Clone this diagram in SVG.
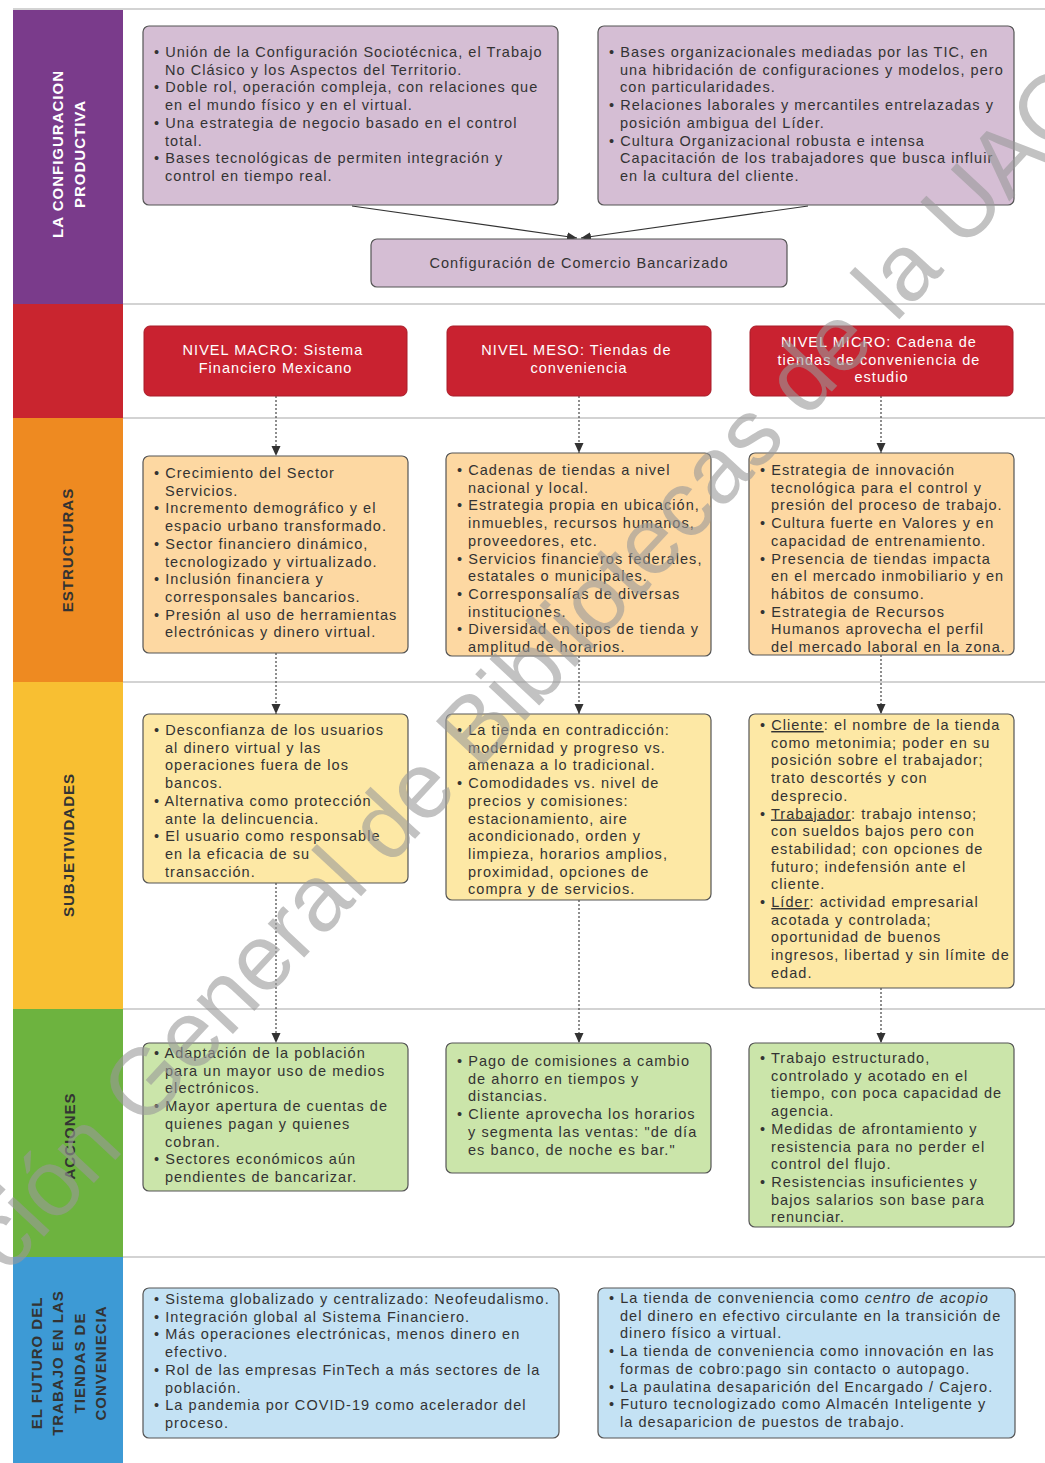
<svg xmlns="http://www.w3.org/2000/svg" width="1045" height="1463" viewBox="0 0 1045 1463">
<defs>
<style>
.t{font-family:"Liberation Sans",Arial,sans-serif;font-size:14.5px;letter-spacing:1.05px;fill:#333}
.w{fill:#fff}
.lab{font-family:"Liberation Sans",Arial,sans-serif;font-size:15px;font-weight:bold;letter-spacing:1px;text-anchor:middle}
.bx{stroke:#555;stroke-width:1.2}
.pu{fill:#D5BED4}
.rd{fill:#C92230;stroke:#A81C28;stroke-width:1}
.or{fill:#FDD8A2}
.ye{fill:#FDE8A5}
.gr{fill:#CBE5AA}
.bl{fill:#C4E2F4}
.grid{stroke:#C4C4C4;stroke-width:1.5}
.dash{stroke:#444;stroke-width:1.2;stroke-dasharray:2 2;fill:none}
.solid{stroke:#333;stroke-width:1.2;fill:none}
</style>
<marker id="arr" viewBox="0 0 10 10" refX="10" refY="5" markerWidth="10" markerHeight="10" markerUnits="userSpaceOnUse" orient="auto">
<path d="M0,0.5 L10,5 L0,9.5 Z" fill="#333"/>
</marker>
</defs>
<rect x="0" y="0" width="1045" height="1463" fill="#fff"/>

<g id="lanes">
<rect x="13" y="10" width="110" height="294" fill="#7A3B8B"/>
<rect x="13" y="304" width="110" height="114" fill="#C9252F"/>
<rect x="13" y="418" width="110" height="264" fill="#EE8A21"/>
<rect x="13" y="682" width="110" height="327" fill="#F8BF32"/>
<rect x="13" y="1009" width="110" height="248" fill="#6DB33F"/>
<rect x="13" y="1257" width="110" height="206" fill="#3D9AD5"/>
<line class="grid" x1="13" y1="9" x2="1045" y2="9"/>
<line class="grid" x1="123" y1="304" x2="1045" y2="304"/>
<line class="grid" x1="123" y1="418" x2="1045" y2="418"/>
<line class="grid" x1="123" y1="682" x2="1045" y2="682"/>
<line class="grid" x1="123" y1="1009" x2="1045" y2="1009"/>
<line class="grid" x1="123" y1="1257" x2="1045" y2="1257"/>
<text class="lab w" transform="translate(63,154) rotate(-90)">LA CONFIGURACION</text>
<text class="lab w" transform="translate(85,154) rotate(-90)">PRODUCTIVA</text>
<text class="lab" fill="#333" transform="translate(73,550) rotate(-90)">ESTRUCTURAS</text>
<text class="lab" fill="#333" transform="translate(74,845) rotate(-90)">SUBJETIVIDADES</text>
<text class="lab" fill="#333" transform="translate(75,1136) rotate(-90)">ACCIONES</text>
<text class="lab" fill="#333" transform="translate(42,1363) rotate(-90)">EL FUTURO DEL</text>
<text class="lab" fill="#333" transform="translate(63,1363) rotate(-90)">TRABAJO EN LAS</text>
<text class="lab" fill="#333" transform="translate(84.5,1363) rotate(-90)">TIENDAS DE</text>
<text class="lab" fill="#333" transform="translate(106,1363) rotate(-90)">CONVENIECIA</text>
</g>

<g id="connectors">
<line class="solid" x1="352" y1="206" x2="577" y2="238" marker-end="url(#arr)"/>
<line class="solid" x1="808" y1="206" x2="581" y2="238" marker-end="url(#arr)"/>
<line class="dash" x1="276" y1="396" x2="276" y2="456" marker-end="url(#arr)"/>
<line class="dash" x1="276" y1="653" x2="276" y2="714" marker-end="url(#arr)"/>
<line class="dash" x1="276" y1="883" x2="276" y2="1043" marker-end="url(#arr)"/>
<line class="dash" x1="579" y1="396" x2="579" y2="453" marker-end="url(#arr)"/>
<line class="dash" x1="579" y1="656" x2="579" y2="714" marker-end="url(#arr)"/>
<line class="dash" x1="579" y1="900" x2="579" y2="1043" marker-end="url(#arr)"/>
<line class="dash" x1="881" y1="396" x2="881" y2="453" marker-end="url(#arr)"/>
<line class="dash" x1="881" y1="655" x2="881" y2="714" marker-end="url(#arr)"/>
<line class="dash" x1="881" y1="988" x2="881" y2="1043" marker-end="url(#arr)"/>
</g>

<g id="conf-a">
<rect class="bx pu" x="143" y="26" width="415" height="179" rx="6"/>
<text class="t">
<tspan x="154" y="57">• Unión de la Configuración Sociotécnica, el Trabajo</tspan>
<tspan x="165" y="74.7">No Clásico y los Aspectos del Territorio.</tspan>
<tspan x="154" y="92.4">• Doble rol, operación compleja, con relaciones que</tspan>
<tspan x="165" y="110.1">en el mundo físico y en el virtual.</tspan>
<tspan x="154" y="127.8">• Una estrategia de negocio basado en el control</tspan>
<tspan x="165" y="145.5">total.</tspan>
<tspan x="154" y="163.2">• Bases tecnológicas de permiten integración y</tspan>
<tspan x="165" y="180.9">control en tiempo real.</tspan>
</text>
</g>

<g id="conf-b">
<rect class="bx pu" x="598" y="26" width="416" height="179" rx="6"/>
<text class="t">
<tspan x="609" y="57">• Bases organizacionales mediadas por las TIC, en</tspan>
<tspan x="620" y="74.7">una hibridación de configuraciones y modelos, pero</tspan>
<tspan x="620" y="92.4">con particularidades.</tspan>
<tspan x="609" y="110.1">• Relaciones laborales y mercantiles entrelazadas y</tspan>
<tspan x="620" y="127.8">posición ambigua del Líder.</tspan>
<tspan x="609" y="145.5">• Cultura Organizacional robusta e intensa</tspan>
<tspan x="620" y="163.2">Capacitación de los trabajadores que busca influir</tspan>
<tspan x="620" y="180.9">en la cultura del cliente.</tspan>
</text>
</g>

<g id="conf-c">
<rect class="bx pu" x="371" y="239" width="416" height="48" rx="6"/>
<text class="t" x="579" y="268" text-anchor="middle">Configuración de Comercio Bancarizado</text>
</g>

<g id="macro">
<rect class="rd" x="144" y="326" width="263" height="70" rx="6"/>
<text class="t w" text-anchor="middle">
<tspan x="275.5" y="355">NIVEL MACRO: Sistema</tspan>
<tspan x="275.5" y="373">Financiero Mexicano</tspan>
</text>
</g>

<g id="meso">
<rect class="rd" x="447" y="326" width="264" height="70" rx="6"/>
<text class="t w" text-anchor="middle">
<tspan x="579" y="355">NIVEL MESO: Tiendas de</tspan>
<tspan x="579" y="373">conveniencia</tspan>
</text>
</g>

<g id="micro">
<rect class="rd" x="750" y="326" width="263" height="70" rx="6"/>
<text class="t w" text-anchor="middle">
<tspan x="881.5" y="347">NIVEL MICRO: Cadena de</tspan>
<tspan x="881.5" y="364.7">tiendas de conveniencia de</tspan>
<tspan x="881.5" y="382.4">estudio</tspan>
</text>
</g>

<g id="estructuras-macro">
<rect class="bx or" x="143" y="456" width="265" height="197" rx="6"/>
<text class="t">
<tspan x="154" y="478">• Crecimiento del Sector</tspan>
<tspan x="165" y="495.7">Servicios.</tspan>
<tspan x="154" y="513.4">• Incremento demográfico y el</tspan>
<tspan x="165" y="531.1">espacio urbano transformado.</tspan>
<tspan x="154" y="548.8">• Sector financiero dinámico,</tspan>
<tspan x="165" y="566.5">tecnologizado y virtualizado.</tspan>
<tspan x="154" y="584.2">• Inclusión financiera y</tspan>
<tspan x="165" y="601.9">corresponsales bancarios.</tspan>
<tspan x="154" y="619.6">• Presión al uso de herramientas</tspan>
<tspan x="165" y="637.3">electrónicas y dinero virtual.</tspan>
</text>
</g>

<g id="estructuras-meso">
<rect class="bx or" x="446" y="453" width="265" height="203" rx="6"/>
<text class="t">
<tspan x="457" y="475">• Cadenas de tiendas a nivel</tspan>
<tspan x="468" y="492.7">nacional y local.</tspan>
<tspan x="457" y="510.4">• Estrategia propia en ubicación,</tspan>
<tspan x="468" y="528.1">inmuebles, recursos humanos,</tspan>
<tspan x="468" y="545.8">proveedores, etc.</tspan>
<tspan x="457" y="563.5">• Servicios financieros federales,</tspan>
<tspan x="468" y="581.2">estatales o municipales.</tspan>
<tspan x="457" y="598.9">• Corresponsalías de diversas</tspan>
<tspan x="468" y="616.6">instituciones.</tspan>
<tspan x="457" y="634.3">• Diversidad en tipos de tienda y</tspan>
<tspan x="468" y="652">amplitud de horarios.</tspan>
</text>
</g>

<g id="estructuras-micro">
<rect class="bx or" x="749" y="453" width="265" height="202" rx="6"/>
<text class="t">
<tspan x="760" y="475">• Estrategia de innovación</tspan>
<tspan x="771" y="492.7">tecnológica para el control y</tspan>
<tspan x="771" y="510.4">presión del proceso de trabajo.</tspan>
<tspan x="760" y="528.1">• Cultura fuerte en Valores y en</tspan>
<tspan x="771" y="545.8">capacidad de entrenamiento.</tspan>
<tspan x="760" y="563.5">• Presencia de tiendas impacta</tspan>
<tspan x="771" y="581.2">en el mercado inmobiliario y en</tspan>
<tspan x="771" y="598.9">hábitos de consumo.</tspan>
<tspan x="760" y="616.6">• Estrategia de Recursos</tspan>
<tspan x="771" y="634.3">Humanos aprovecha el perfil</tspan>
<tspan x="771" y="652">del mercado laboral en la zona.</tspan>
</text>
</g>

<g id="subjetividades-macro">
<rect class="bx ye" x="143" y="714" width="265" height="169" rx="6"/>
<text class="t">
<tspan x="154" y="735">• Desconfianza de los usuarios</tspan>
<tspan x="165" y="752.7">al dinero virtual y las</tspan>
<tspan x="165" y="770.4">operaciones fuera de los</tspan>
<tspan x="165" y="788.1">bancos.</tspan>
<tspan x="154" y="805.8">• Alternativa como protección</tspan>
<tspan x="165" y="823.5">ante la delincuencia.</tspan>
<tspan x="154" y="841.2">• El usuario como responsable</tspan>
<tspan x="165" y="858.9">en la eficacia de su</tspan>
<tspan x="165" y="876.6">transacción.</tspan>
</text>
</g>

<g id="subjetividades-meso">
<rect class="bx ye" x="446" y="714" width="265" height="186" rx="6"/>
<text class="t">
<tspan x="457" y="735">• La tienda en contradicción:</tspan>
<tspan x="468" y="752.7">modernidad y progreso vs.</tspan>
<tspan x="468" y="770.4">amenaza a lo tradicional.</tspan>
<tspan x="457" y="788.1">• Comodidades vs. nivel de</tspan>
<tspan x="468" y="805.8">precios y comisiones:</tspan>
<tspan x="468" y="823.5">estacionamiento, aire</tspan>
<tspan x="468" y="841.2">acondicionado, orden y</tspan>
<tspan x="468" y="858.9">limpieza, horarios amplios,</tspan>
<tspan x="468" y="876.6">proximidad, opciones de</tspan>
<tspan x="468" y="894.3">compra y de servicios.</tspan>
</text>
</g>

<g id="subjetividades-micro">
<rect class="bx ye" x="749" y="714" width="265" height="274" rx="6"/>
<text class="t">
<tspan x="760" y="730">• </tspan><tspan text-decoration="underline">Cliente</tspan><tspan>: el nombre de la tienda</tspan>
<tspan x="771" y="747.7">como metonimia; poder en su</tspan>
<tspan x="771" y="765.4">posición sobre el trabajador;</tspan>
<tspan x="771" y="783.1">trato descortés y con</tspan>
<tspan x="771" y="800.8">desprecio.</tspan>
<tspan x="760" y="818.5">• </tspan><tspan text-decoration="underline">Trabajador</tspan><tspan>: trabajo intenso;</tspan>
<tspan x="771" y="836.2">con sueldos bajos pero con</tspan>
<tspan x="771" y="853.9">estabilidad; con opciones de</tspan>
<tspan x="771" y="871.6">futuro; indefensión ante el</tspan>
<tspan x="771" y="889.3">cliente.</tspan>
<tspan x="760" y="907">• </tspan><tspan text-decoration="underline">Líder</tspan><tspan>: actividad empresarial</tspan>
<tspan x="771" y="924.7">acotada y controlada;</tspan>
<tspan x="771" y="942.4">oportunidad de buenos</tspan>
<tspan x="771" y="960.1">ingresos, libertad y sin límite de</tspan>
<tspan x="771" y="977.8">edad.</tspan>
</text>
</g>

<g id="acciones-macro">
<rect class="bx gr" x="143" y="1043" width="265" height="148" rx="6"/>
<text class="t">
<tspan x="154" y="1058">• Adaptación de la población</tspan>
<tspan x="165" y="1075.7">para un mayor uso de medios</tspan>
<tspan x="165" y="1093.4">electrónicos.</tspan>
<tspan x="154" y="1111.1">• Mayor apertura de cuentas de</tspan>
<tspan x="165" y="1128.8">quienes pagan y quienes</tspan>
<tspan x="165" y="1146.5">cobran.</tspan>
<tspan x="154" y="1164.2">• Sectores económicos aún</tspan>
<tspan x="165" y="1181.9">pendientes de bancarizar.</tspan>
</text>
</g>

<g id="acciones-meso">
<rect class="bx gr" x="446" y="1043" width="265" height="130" rx="6"/>
<text class="t">
<tspan x="457" y="1066">• Pago de comisiones a cambio</tspan>
<tspan x="468" y="1083.7">de ahorro en tiempos y</tspan>
<tspan x="468" y="1101.4">distancias.</tspan>
<tspan x="457" y="1119.1">• Cliente aprovecha los horarios</tspan>
<tspan x="468" y="1136.8">y segmenta las ventas: "de día</tspan>
<tspan x="468" y="1154.5">es banco, de noche es bar."</tspan>
</text>
</g>

<g id="acciones-micro">
<rect class="bx gr" x="749" y="1043" width="265" height="184" rx="6"/>
<text class="t">
<tspan x="760" y="1063">• Trabajo estructurado,</tspan>
<tspan x="771" y="1080.7">controlado y acotado en el</tspan>
<tspan x="771" y="1098.4">tiempo, con poca capacidad de</tspan>
<tspan x="771" y="1116.1">agencia.</tspan>
<tspan x="760" y="1133.8">• Medidas de afrontamiento y</tspan>
<tspan x="771" y="1151.5">resistencia para no perder el</tspan>
<tspan x="771" y="1169.2">control del flujo.</tspan>
<tspan x="760" y="1186.9">• Resistencias insuficientes y</tspan>
<tspan x="771" y="1204.6">bajos salarios son base para</tspan>
<tspan x="771" y="1222.3">renunciar.</tspan>
</text>
</g>

<g id="futuro-a">
<rect class="bx bl" x="143" y="1288" width="416" height="150" rx="6"/>
<text class="t">
<tspan x="154" y="1304">• Sistema globalizado y centralizado: Neofeudalismo.</tspan>
<tspan x="154" y="1321.7">• Integración global al Sistema Financiero.</tspan>
<tspan x="154" y="1339.4">• Más operaciones electrónicas, menos dinero en</tspan>
<tspan x="165" y="1357.1">efectivo.</tspan>
<tspan x="154" y="1374.8">• Rol de las empresas FinTech a más sectores de la</tspan>
<tspan x="165" y="1392.5">población.</tspan>
<tspan x="154" y="1410.2">• La pandemia por COVID-19 como acelerador del</tspan>
<tspan x="165" y="1427.9">proceso.</tspan>
</text>
</g>

<g id="futuro-b">
<rect class="bx bl" x="598" y="1288" width="417" height="150" rx="6"/>
<text class="t">
<tspan x="609" y="1303">• La tienda de conveniencia como </tspan><tspan font-style="italic">centro de acopio</tspan>
<tspan x="620" y="1320.7">del dinero en efectivo circulante en la transición de</tspan>
<tspan x="620" y="1338.4">dinero físico a virtual.</tspan>
<tspan x="609" y="1356.1">• La tienda de conveniencia como innovación en las</tspan>
<tspan x="620" y="1373.8">formas de cobro:pago sin contacto o autopago.</tspan>
<tspan x="609" y="1391.5">• La paulatina desaparición del Encargado / Cajero.</tspan>
<tspan x="609" y="1409.2">• Futuro tecnologizado como Almacén Inteligente y</tspan>
<tspan x="620" y="1426.9">la desaparicion de puestos de trabajo.</tspan>
</text>
</g>

<g id="watermark">
<text transform="translate(-142,1436) rotate(-47)" font-family="Liberation Sans, Arial, sans-serif" font-size="94" fill="#9a9a9a" opacity="0.6">Dirección General de Bibliotecas de la UAQ</text>
</g>
</svg>
